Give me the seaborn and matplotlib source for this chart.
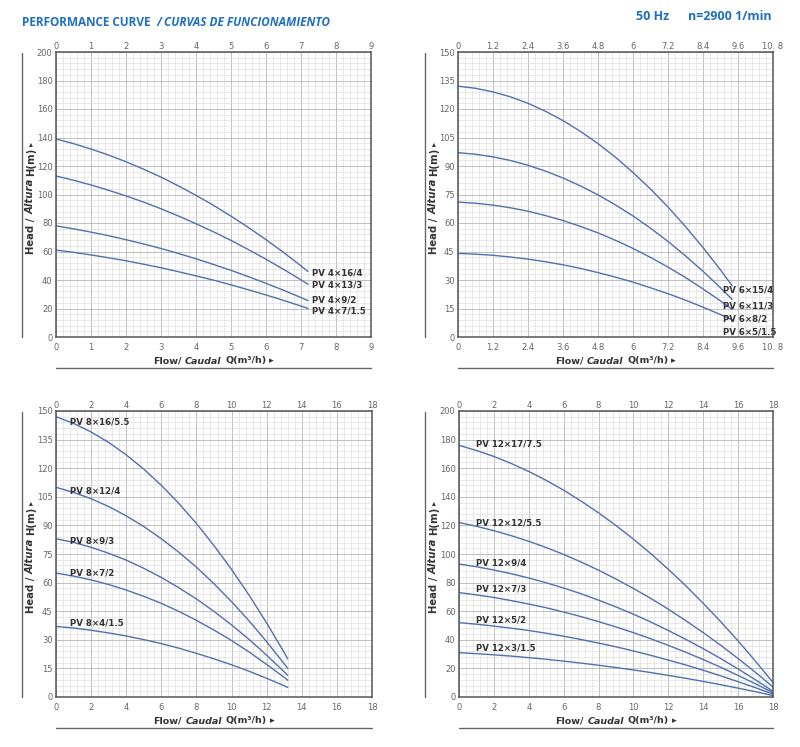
import matplotlib
matplotlib.use("Agg")

import matplotlib.pyplot as plt
import pandas as pd
import seaborn as sns
from matplotlib.lines import Line2D
from matplotlib.ticker import AutoMinorLocator, FixedLocator, FixedFormatter
from matplotlib.transforms import IdentityTransform

# ---- data ------------------------------------------------------------------
# PV 4" pumps, flow 0-9 m3/h
FLOW_4 = [0, 0.5, 1, 1.5, 2, 2.5, 3, 3.5, 4, 4.5, 5, 5.5, 6, 6.5, 7, 7.2]
MODELS_4 = ["PV 4×16/4", "PV 4×13/3", "PV 4×9/2", "PV 4×7/1.5"]
HEAD_4_16 = [139, 135.7, 131.9, 127.7, 123.0, 117.8, 112.2, 106.0, 99.4,
             92.4, 84.8, 76.8, 68.3, 59.4, 49.9, 46.0]
HEAD_4_13 = [113, 110.0, 106.7, 103.0, 99.0, 94.7, 90.0, 84.9, 79.5,
             73.8, 67.8, 61.3, 54.6, 47.5, 40.1, 37.0]
HEAD_4_9 = [78, 75.9, 73.6, 71.1, 68.3, 65.3, 62.1, 58.6, 54.9,
            50.9, 46.8, 42.3, 37.7, 32.8, 27.7, 25.5]
HEAD_4_7 = [61, 59.4, 57.6, 55.6, 53.5, 51.1, 48.6, 45.8, 42.9,
            39.9, 36.6, 33.1, 29.5, 25.7, 21.7, 20.0]
LABEL_Y_4 = [45, 36.5, 26, 18.5]

# PV 6" pumps, flow 0-10.8 m3/h
FLOW_6 = [0, 0.6, 1.2, 1.8, 2.4, 3.0, 3.6, 4.2, 4.8, 5.4, 6.0, 6.6, 7.2,
          7.8, 8.4, 9.0, 9.4]
MODELS_6 = ["PV 6×15/4", "PV 6×11/3", "PV 6×8/2", "PV 6×5/1.5"]
HEAD_6_15 = [132, 130.9, 129.0, 126.4, 123.0, 118.8, 113.9, 108.2, 101.8,
             94.6, 86.6, 77.9, 68.4, 58.1, 47.1, 35.3, 27.0]
HEAD_6_11 = [97.0, 96.2, 94.8, 92.9, 90.4, 87.3, 83.7, 79.5, 74.8,
             69.5, 63.7, 57.3, 50.3, 42.7, 34.6, 25.9, 19.8]
HEAD_6_8 = [71.0, 70.4, 69.4, 68.0, 66.2, 63.9, 61.3, 58.2, 54.8,
            50.9, 46.6, 41.9, 36.8, 31.3, 25.3, 19.0, 14.5]
HEAD_6_5 = [44.0, 43.6, 43.0, 42.1, 41.0, 39.6, 38.0, 36.1, 33.9,
            31.5, 28.9, 25.9, 22.8, 19.4, 15.7, 11.8, 9.0]
LABEL_Y_6 = [25, 16.5, 9.5, 2.5]

# PV 8" pumps, flow 0-18 m3/h
FLOW_8 = [0, 1, 2, 3, 4, 5, 6, 7, 8, 9, 10, 11, 12, 13, 13.2]
MODELS_8 = ["PV 8×16/5.5", "PV 8×12/4", "PV 8×9/3", "PV 8×7/2", "PV 8×4/1.5"]
HEAD_8_16 = [147, 143.5, 139.0, 133.5, 127.0, 119.5, 111.0, 101.5, 91.0,
             79.4, 66.9, 53.4, 38.8, 23.3, 20.0]
HEAD_8_12 = [110, 107.3, 104.0, 99.9, 95.0, 89.4, 83.0, 75.9, 68.1,
             59.4, 50.0, 39.9, 29.0, 17.4, 15.0]
HEAD_8_9 = [83, 81.1, 78.5, 75.4, 71.8, 67.5, 62.7, 57.3, 51.4,
            44.9, 37.8, 30.2, 21.9, 13.2, 11.3]
HEAD_8_7 = [65, 63.4, 61.4, 59.0, 56.1, 52.8, 49.1, 44.9, 40.2,
            35.1, 29.6, 23.6, 17.1, 10.3, 8.8]
HEAD_8_4 = [37, 36.2, 35.0, 33.6, 32.0, 30.1, 28.0, 25.6, 22.9,
            20.0, 16.9, 13.5, 9.8, 5.9, 5.0]
LABEL_Y_8 = [144, 108, 82, 65, 39]

# PV 12" pumps, flow 0-18 m3/h
FLOW_12 = [0, 1, 2, 3, 4, 5, 6, 7, 8, 9, 10, 11, 12, 13, 14, 15, 16, 17, 18]
MODELS_12 = ["PV 12×17/7.5", "PV 12×12/5.5", "PV 12×9/4",
             "PV 12×7/3", "PV 12×5/2", "PV 12×3/1.5"]
HEAD_12_17 = [176, 172.4, 168.2, 163.3, 157.7, 151.5, 144.6, 137.0, 128.8,
              119.9, 110.4, 100.2, 89.3, 77.8, 65.5, 52.7, 39.2, 25.0, 10.1]
HEAD_12_12 = [122, 119.4, 116.3, 112.8, 108.9, 104.5, 99.7, 94.4, 88.7,
              82.5, 75.9, 68.9, 61.4, 53.4, 45.0, 36.2, 26.9, 17.2, 7.0]
HEAD_12_9 = [93, 91.1, 88.8, 86.2, 83.2, 79.9, 76.2, 72.2, 67.7,
             63.0, 57.9, 52.4, 46.5, 40.3, 33.8, 26.9, 19.6, 12.0, 4.0]
HEAD_12_7 = [73, 71.4, 69.6, 67.4, 65.0, 62.4, 59.4, 56.2, 52.7,
             49.0, 45.0, 40.7, 36.1, 31.3, 26.2, 20.8, 15.1, 9.2, 3.0]
HEAD_12_5 = [52, 50.9, 49.6, 48.1, 46.5, 44.6, 42.5, 40.2, 37.7,
             35.1, 32.2, 29.1, 25.8, 22.4, 18.7, 14.8, 10.7, 6.5, 2.0]
HEAD_12_3 = [31, 30.3, 29.5, 28.6, 27.5, 26.4, 25.1, 23.7, 22.2,
             20.6, 18.9, 17.1, 15.1, 13.1, 10.9, 8.6, 6.2, 3.7, 1.0]
LABEL_Y_12 = [177, 122, 94, 75.5, 54, 34]

XTICKS_6 = [0, 1.2, 2.4, 3.6, 4.8, 6, 7.2, 8.4, 9.6, 10.8]
XLABELS_6 = ["0", "1.2", "2.4", "3.6", "4.8", "6", "7.2", "8.4", "9.6", "10. 8"]

# ---- style -----------------------------------------------------------------
sns.set_style("white")
plt.rcParams["font.family"] = ["DejaVu Sans"]

W, H = 800, 747
CURVE = "#4f70b3"
TEXT = "#333333"
TICK = "#666666"
BLUE = "#1f6fc4"

fig = plt.figure(figsize=(W / 100, H / 100), dpi=100)


def frame(flows, curves, models):
    rows = []
    for name, heads in zip(models, curves):
        for q, h in zip(flows, heads):
            rows.append({"model": name, "flow": q, "head": h})
    return pd.DataFrame(rows)


def panel(rect, xmax, xticks, xlabels, ymax, ystep, df, models,
          label_x, label_y):
    l, t, r, b = rect
    ax = fig.add_axes([l / W, 1 - b / H, (r - l) / W, (b - t) / H])
    sns.lineplot(data=df, x="flow", y="head", units="model", estimator=None,
                 color=CURVE, linewidth=1.0, ax=ax, legend=False)
    ax.set_xlim(0, xmax)
    ax.set_ylim(0, ymax)
    ax.xaxis.set_major_locator(FixedLocator(xticks))
    ax.xaxis.set_major_formatter(FixedFormatter(xlabels))
    ax.set_yticks(list(range(0, ymax + 1, ystep)))
    ax.xaxis.set_minor_locator(AutoMinorLocator(5))
    ax.yaxis.set_minor_locator(AutoMinorLocator(5))
    ax.grid(which="major", color="#b5b5b5", linewidth=0.6)
    ax.grid(which="minor", color="#dedede", linewidth=0.5)
    ax.set_axisbelow(True)
    ax.tick_params(which="both", length=0, colors=TICK, labelsize=6)
    ax.tick_params(axis="x", pad=4)
    ax.tick_params(axis="y", pad=2.5)
    top = ax.secondary_xaxis("top")
    top.xaxis.set_major_locator(FixedLocator(xticks))
    top.xaxis.set_major_formatter(FixedFormatter(xlabels))
    top.tick_params(length=0, colors=TICK, labelsize=6, pad=0.5)
    top.spines["top"].set_visible(False)
    for sp in ax.spines.values():
        sp.set_color("#555555")
        sp.set_linewidth(1.1)
    ax.set_xlabel("")
    ax.set_ylabel("")
    for name, y in zip(models, label_y):
        ax.text(label_x, y, name, ha="left", va="center", fontsize=6.2,
                fontweight="bold", color=TEXT)
    return ax


def rich_text(x, y, parts, vertical=False, size=7):
    """Write styled pieces one after another, centred on (x, y) in image px."""
    renderer = fig.canvas.get_renderer()
    texts, offset = [], 0.0
    for s, weight, style, gap, scale in parts:
        t = fig.text(0, 0, s, transform=IdentityTransform(),
                     fontsize=size * scale, fontweight=weight,
                     fontstyle=style, color=TEXT,
                     rotation=90 if vertical else 0, rotation_mode="anchor",
                     ha="left", va="center")
        bb = t.get_window_extent(renderer)
        texts.append((t, offset))
        offset += (bb.height if vertical else bb.width) + gap
    offset -= parts[-1][3]
    for t, off in texts:
        if vertical:
            t.set_position((x, (H - y) - offset / 2 + off))
        else:
            t.set_position((x - offset / 2 + off, H - y))


def deco_line(x0, y0, x1, y1):
    fig.add_artist(Line2D([x0 / W, x1 / W], [1 - y0 / H, 1 - y1 / H],
                          transform=fig.transFigure, color="#666666",
                          linewidth=1.0))


YLABEL = [("Head /", "bold", "normal", 3, 1.0),
          ("Altura", "bold", "italic", 3, 1.0),
          ("H(m)", "bold", "normal", 2, 1.0),
          ("▸", "normal", "normal", 0, 0.8)]
XLABEL = [("Flow/", "bold", "normal", 3.5, 1.0),
          ("Caudal", "bold", "italic", 3.5, 1.0),
          ("Q(m³/h)", "bold", "normal", 3, 1.0),
          ("▸", "normal", "normal", 0, 1.0)]

df4 = frame(FLOW_4, [HEAD_4_16, HEAD_4_13, HEAD_4_9, HEAD_4_7], MODELS_4)
df6 = frame(FLOW_6, [HEAD_6_15, HEAD_6_11, HEAD_6_8, HEAD_6_5], MODELS_6)
df8 = frame(FLOW_8, [HEAD_8_16, HEAD_8_12, HEAD_8_9, HEAD_8_7, HEAD_8_4],
            MODELS_8)
df12 = frame(FLOW_12, [HEAD_12_17, HEAD_12_12, HEAD_12_9, HEAD_12_7,
                       HEAD_12_5, HEAD_12_3], MODELS_12)

RECTS = [(56, 52, 371, 337), (458, 52, 773, 337),
         (56, 411, 372, 697), (459, 411, 773, 697)]

panel(RECTS[0], 9, list(range(10)), [str(i) for i in range(10)],
      200, 20, df4, MODELS_4, 7.3, LABEL_Y_4)
panel(RECTS[1], 10.8, XTICKS_6, XLABELS_6,
      150, 15, df6, MODELS_6, 9.1, LABEL_Y_6)
panel(RECTS[2], 18, list(range(0, 19, 2)), [str(i) for i in range(0, 19, 2)],
      150, 15, df8, MODELS_8, 0.8, LABEL_Y_8)
panel(RECTS[3], 18, list(range(0, 19, 2)), [str(i) for i in range(0, 19, 2)],
      200, 20, df12, MODELS_12, 1.0, LABEL_Y_12)

# axis titles and the thin rules beside them
for (l, t, r, b), vx, hy in zip(RECTS, [22, 425, 22, 425],
                                [368, 368, 728, 728]):
    rich_text(vx + 9, (t + b) / 2 + 3, YLABEL, vertical=True, size=7.3)
    rich_text((l + r) / 2, b + 24, XLABEL, size=6.8)
    deco_line(vx, t + 1, vx, b)
    deco_line(l, hy, r, hy)

# header
renderer = fig.canvas.get_renderer()
HEAD_FONT = ["Open Sans", "DejaVu Sans"]
t1 = fig.text(22, H - 22, "PERFORMANCE CURVE  ", transform=IdentityTransform(),
              fontsize=8.5, fontweight="bold", color=BLUE, va="center",
              family=HEAD_FONT)
w1 = t1.get_window_extent(renderer).width
fig.text(22 + w1, H - 22, "/ CURVAS DE FUNCIONAMIENTO",
         transform=IdentityTransform(), fontsize=8.5, fontweight="bold",
         fontstyle="italic", color=BLUE, va="center", family=HEAD_FONT)
fig.text(636, H - 17, "50 Hz", transform=IdentityTransform(), fontsize=9,
         fontweight="bold", color=BLUE, va="center", family=HEAD_FONT)
fig.text(688, H - 17, "n=2900 1/min", transform=IdentityTransform(),
         fontsize=9, fontweight="bold", color=BLUE, va="center",
         family=HEAD_FONT)

fig.savefig("out.png", dpi=100)
